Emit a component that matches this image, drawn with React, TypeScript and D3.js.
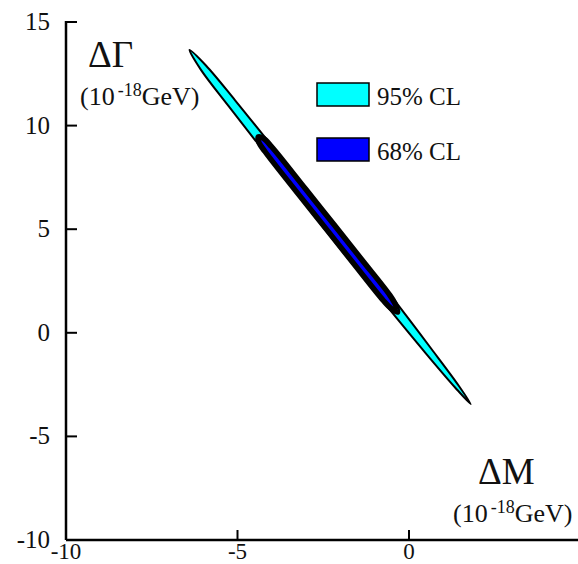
import React from "react";
import * as d3 from "d3";

const W = 578;
const H = 564;

const xTicks = [-10, -5, 0, 5];
const yTicks = [-10, -5, 0, 5, 10, 15];
const xTickLabels = ["-10", "-5", "0", ""];
const yTickLabels = ["-10", "-5", "0", "5", "10", "15"];

// 95% CL contour boundary (ΔM, ΔΓ)
const contour95: [number, number][] = [
  [-6.4, 13.65],
  [-5.92, 12.9],
  [-5.07, 11.22],
  [-3.83, 8.67],
  [-2.18, 5.28],
  [-0.55, 1.84],
  [0.65, -0.77],
  [1.44, -2.53],
  [1.8, -3.44],
  [1.35, -2.65],
  [0.49, -0.99],
  [-0.77, 1.54],
  [-2.43, 4.94],
  [-4.05, 8.37],
  [-5.27, 10.96],
  [-6.07, 12.7],
];

// 68% CL contour boundary (ΔM, ΔΓ)
const contour68: [number, number][] = [
  [-4.39, 9.46],
  [-4.24, 9.38],
  [-4.01, 8.99],
  [-3.02, 6.95],
  [-2.2, 5.25],
  [-1.38, 3.54],
  [-0.56, 1.82],
  [-0.39, 1.35],
  [-0.33, 1.0],
  [-0.52, 1.17],
  [-0.75, 1.56],
  [-1.58, 3.27],
  [-2.4, 4.98],
  [-3.22, 6.68],
  [-4.2, 8.75],
  [-4.38, 9.2],
];

const legendLabels = ["95% CL", "68% CL"];
const legendColors = ["#00ffff", "#0000ff"];

const FONT = "'Liberation Serif', 'Times New Roman', serif";

export default function App() {
  const x = d3.scaleLinear().domain([-10, 5]).range([66, 409 + 5 * 34.3]);
  const y = d3.scaleLinear().domain([-10, 15]).range([540, 22]);

  const line = d3
    .line<[number, number]>()
    .x((d) => x(d[0]))
    .y((d) => y(d[1]))
    .curve(d3.curveCatmullRomClosed.alpha(0.5));

  return (
    <svg
      width={W}
      height={H}
      style={{ position: "absolute", left: 0, top: 0, background: "#fff" }}
      fontFamily={FONT}
    >
      {/* contours */}
      <path d={line(contour95) || ""} fill="#00ffff" stroke="#000" strokeWidth={2} strokeLinejoin="round" />
      <path d={line(contour68) || ""} fill="#0000ff" stroke="#000" strokeWidth={5.5} strokeLinejoin="round" />

      {/* axes */}
      <line x1={x(-10)} x2={W} y1={y(-10)} y2={y(-10)} stroke="#000" strokeWidth={2.5} />
      <line x1={x(-10)} x2={x(-10)} y1={y(15) - 1} y2={y(-10)} stroke="#000" strokeWidth={2.5} />
      {yTicks.map((t, i) => (
        <g key={"y" + t}>
          {t !== -10 && (
            <line x1={x(-10)} x2={x(-10) + 11} y1={y(t)} y2={y(t)} stroke="#000" strokeWidth={2} />
          )}
          <text x={50} y={y(t) + 8} textAnchor="end" fontSize={25} fill="#111">
            {yTickLabels[i]}
          </text>
        </g>
      ))}
      {xTicks.map((t, i) => (
        <g key={"x" + t}>
          {t !== -10 && (
            <line x1={x(t)} x2={x(t)} y1={y(-10)} y2={y(-10) - 10} stroke="#000" strokeWidth={2} />
          )}
          {xTickLabels[i] && (
            <text x={x(t)} y={559} textAnchor="middle" fontSize={23} fill="#111">
              {xTickLabels[i]}
            </text>
          )}
        </g>
      ))}

      {/* axis titles */}
      <text x={88} y={67} fontSize={37} fill="#111">ΔΓ</text>
      <text x={80} y={105} fontSize={26} fill="#111">
        (10
        <tspan dx={3} dy={-9} fontSize={18}>-18</tspan>
        <tspan dy={9}>GeV)</tspan>
      </text>
      <text x={478} y={484} fontSize={37} fill="#111">ΔM</text>
      <text x={453} y={522} fontSize={26} fill="#111">
        (10
        <tspan dx={3} dy={-9} fontSize={18}>-18</tspan>
        <tspan dy={9}>GeV)</tspan>
      </text>

      {/* legend */}
      {legendLabels.map((lab, i) => (
        <g key={lab}>
          <rect x={317} y={83 + i * 55} width={52} height={23} fill={legendColors[i]} stroke="#000" strokeWidth={1.5} />
          <text x={377} y={105 + i * 55} fontSize={25} fill="#111">{lab}</text>
        </g>
      ))}
    </svg>
  );
}
